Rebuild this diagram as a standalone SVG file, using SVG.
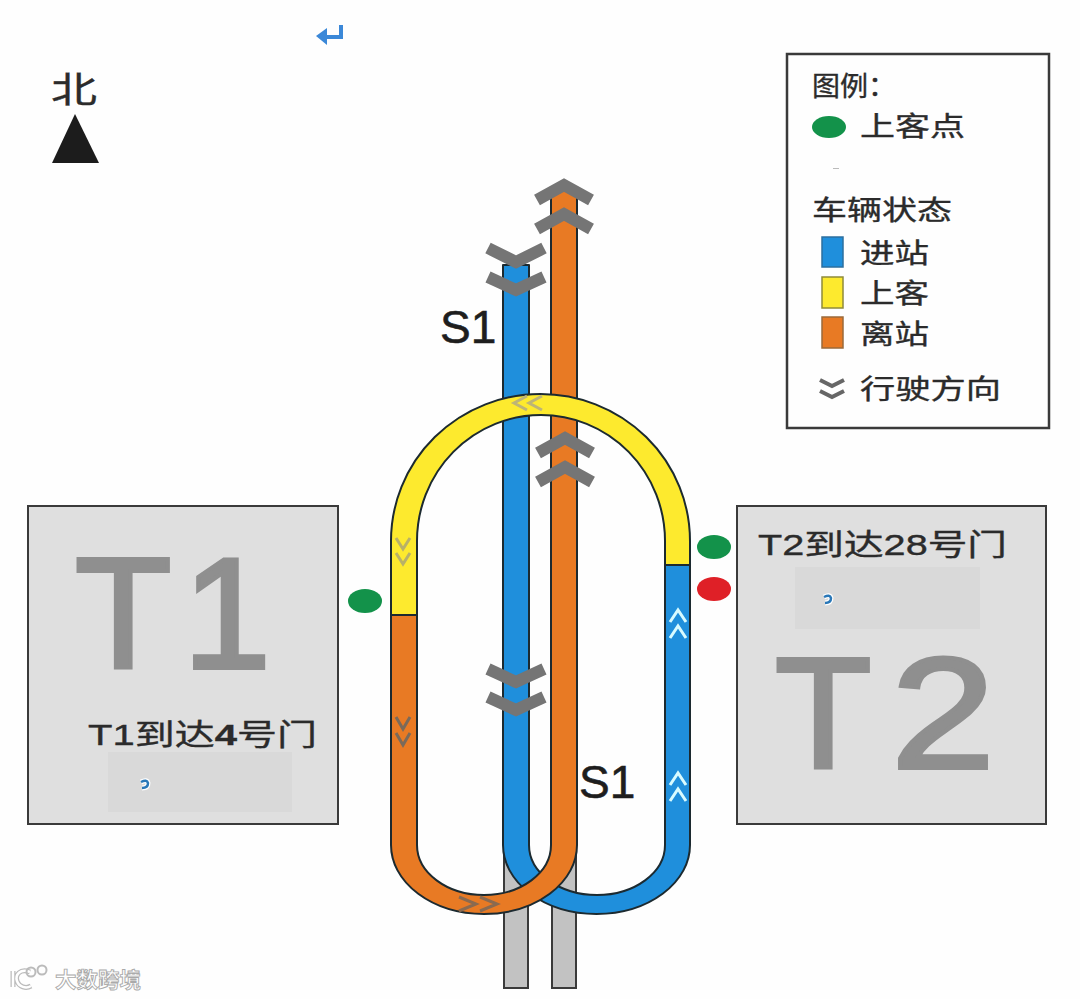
<svg xmlns="http://www.w3.org/2000/svg" width="1080" height="999" viewBox="0 0 1080 999">
<style>
text{font-family:"Liberation Sans","Noto Sans CJK SC",sans-serif;fill:#2b2b2b;stroke:#2b2b2b;stroke-width:.35}
.cjk{font-size:27px}
.big{font-size:158px;fill:#8f8f8f;stroke:#8f8f8f;stroke-width:4}
.s1{font-size:46px;fill:#1e1e1e;stroke:#1e1e1e;stroke-width:.6}
.door{font-size:30px}
.box{fill:#dfdfdf;stroke:#3a3a3a;stroke-width:2}
.patch{fill:#d9d9d9}
.line{stroke:#1c2a30;stroke-width:2;stroke-linejoin:round}
.blue{fill:#1f8fdc}
.orange{fill:#e87a24}
.yellow{fill:#fdea2e}
.chev{fill:none;stroke:#757575;stroke-width:12}
.small{fill:none;stroke-width:3}
.sw{stroke-width:1.5}
.halo{fill:none;stroke:#fff;stroke-width:5}
.mark{fill:none;stroke:#2a78b8;stroke-width:2.500}
.wm{font-size:21px;fill:#fff;stroke:#aaa;stroke-width:.9;font-weight:bold}
</style>
<rect width="1080" height="999" fill="#fefefe"/>

<g id="t1">
<rect class="box" x="28" y="506" width="310" height="318"/>
<text class="big" x="75" y="668">T</text><text class="big" x="183" y="668">1</text>
<rect class="patch" x="108" y="752" width="184" height="60"/>
<text class="door" x="88" y="745" textLength="229" lengthAdjust="spacingAndGlyphs">T1到达<tspan font-weight="bold">4</tspan>号门</text>
<path class="halo" d="M141 782q6-3 7 1q0 5-6 5"/><path class="mark" d="M141 782q6-3 7 1q0 5-6 5"/>
</g>
<g id="t2">
<rect class="box" x="737" y="506" width="309" height="318"/>
<text class="big" x="775" y="768">T</text><text class="big" x="891" y="768" textLength="104" lengthAdjust="spacingAndGlyphs">2</text>
<rect class="patch" x="795" y="567" width="185" height="62"/>
<text class="door" x="758" y="555" textLength="249" lengthAdjust="spacingAndGlyphs">T2到达28号门</text>
<path class="halo" d="M824 597q6-3 7 1q0 5-6 5"/><path class="mark" d="M824 597q6-3 7 1q0 5-6 5"/>
</g>

<g id="connectors">
<rect x="504" y="850" width="24" height="138" fill="#c2c2c2" stroke="#3a3a3a" stroke-width="2"/>
<rect x="552" y="850" width="24" height="138" fill="#c2c2c2" stroke="#3a3a3a" stroke-width="2"/>
<path class="line blue" d="M503 265V845A93.500 69 0 0 0 690 845V565H665V845A68 50 0 0 1 529 845V265Z"/>
<path class="line orange" d="M391 615V845A93 69 0 0 0 577 845V190H551V845A67 50 0 0 1 417 845V615Z"/>
<path class="line yellow" d="M391 615V541A149.500 147 0 0 1 690 541V565H665V541A124 126 0 0 0 417 541V615Z"/>
</g>

<g id="direction-marks">
<path class="chev" d="M537 200L564 185L591 200M537 229L564 214L591 229"/>
<path class="chev" d="M488 248L516 262L544 248M488 277L516 290L544 277"/>
<path class="chev" d="M538 453L565 438L592 453M538 482L565 467L592 482"/>
<path class="chev" d="M488 669L516 682L544 669M488 697L516 710L544 697"/>
<path class="small" stroke="#bdb477" d="M527 396L514 403L527 410M542 396L529 403L542 410"/>
<path class="small" stroke="#b8b168" d="M396 538L403 549L410 538M396 553L403 564L410 553"/>
<path class="small" stroke="#7a6a5a" d="M396 717L403 729L410 717M396 733L403 745L410 733"/>
<path class="small" stroke="#8a6a50" d="M459 897L476 904L459 911M480 897L497 904L480 911"/>
<path class="small" stroke="#d8fbff" d="M670 622L678 610L686 622M670 638L678 626L686 638"/>
<path class="small" stroke="#d8fbff" d="M670 785L678 773L686 785M670 801L678 789L686 801"/>
</g>

<g id="pickup-points">
<ellipse cx="365" cy="601" rx="17" ry="12" fill="#13924a"/>
<ellipse cx="714" cy="547" rx="17" ry="12" fill="#13924a"/>
<ellipse cx="714" cy="589" rx="17" ry="12" fill="#df2027"/>
</g>

<g id="labels">
<text class="s1" x="440" y="343">S1</text>
<text class="s1" x="579" y="798">S1</text>
</g>

<g id="north">
<text x="51" y="103" font-size="36" textLength="46" lengthAdjust="spacingAndGlyphs">北</text>
<path d="M75 114L52 163H99Z" fill="#1c1c1c"/>
</g>

<g id="return-mark">
<path d="M341 25V37H324" fill="none" stroke="#3b88d8" stroke-width="4"/>
<path d="M316 36L327 28V45Z" fill="#3b88d8"/>
</g>

<g id="legend">
<rect x="787" y="54" width="262" height="374" fill="#fefefe" stroke="#3a3a3a" stroke-width="2.500"/>
<text class="cjk" x="812" y="96" textLength="84" lengthAdjust="spacingAndGlyphs">图例：</text>
<ellipse cx="829" cy="127" rx="17" ry="11" fill="#13924a"/>
<text class="cjk" x="860" y="136" textLength="105" lengthAdjust="spacingAndGlyphs">上客点</text>
<rect x="833" y="168" width="6" height="1" fill="#bbb"/>
<text class="cjk" x="812" y="220" textLength="140" lengthAdjust="spacingAndGlyphs">车辆状态</text>
<rect class="sw" x="822" y="237" width="21" height="30" fill="#1f8fdc" stroke="#2c6f9f"/>
<text class="cjk" x="860" y="263" textLength="69" lengthAdjust="spacingAndGlyphs">进站</text>
<rect class="sw" x="822" y="277" width="21" height="31" fill="#fdea2e" stroke="#8f8a3a"/>
<text class="cjk" x="860" y="303" textLength="69" lengthAdjust="spacingAndGlyphs">上客</text>
<rect class="sw" x="822" y="317" width="21" height="31" fill="#e87a24" stroke="#9a6a3a"/>
<text class="cjk" x="860" y="344" textLength="69" lengthAdjust="spacingAndGlyphs">离站</text>
<path d="M820 380L832 386L844 380M820 391L832 397L844 391" fill="none" stroke="#666" stroke-width="4"/>
<text class="cjk" x="860" y="399" textLength="141" lengthAdjust="spacingAndGlyphs">行驶方向</text>
</g>

<g id="watermark" fill="none">
<path d="M13 971V987M30 972C20 968 15 975 17 981C19 987 26 989 31 986" stroke="#bbb" stroke-width="5"/>
<path d="M13 971V987M30 972C20 968 15 975 17 981C19 987 26 989 31 986" stroke="#fff" stroke-width="2.500"/>
<circle cx="31" cy="972" r="4.500" stroke="#bbb" stroke-width="2"/>
<circle cx="42" cy="970" r="4.500" stroke="#bbb" stroke-width="2"/>
<text class="wm" x="55" y="987" textLength="86" lengthAdjust="spacingAndGlyphs">大数跨境</text>
</g>
</svg>
